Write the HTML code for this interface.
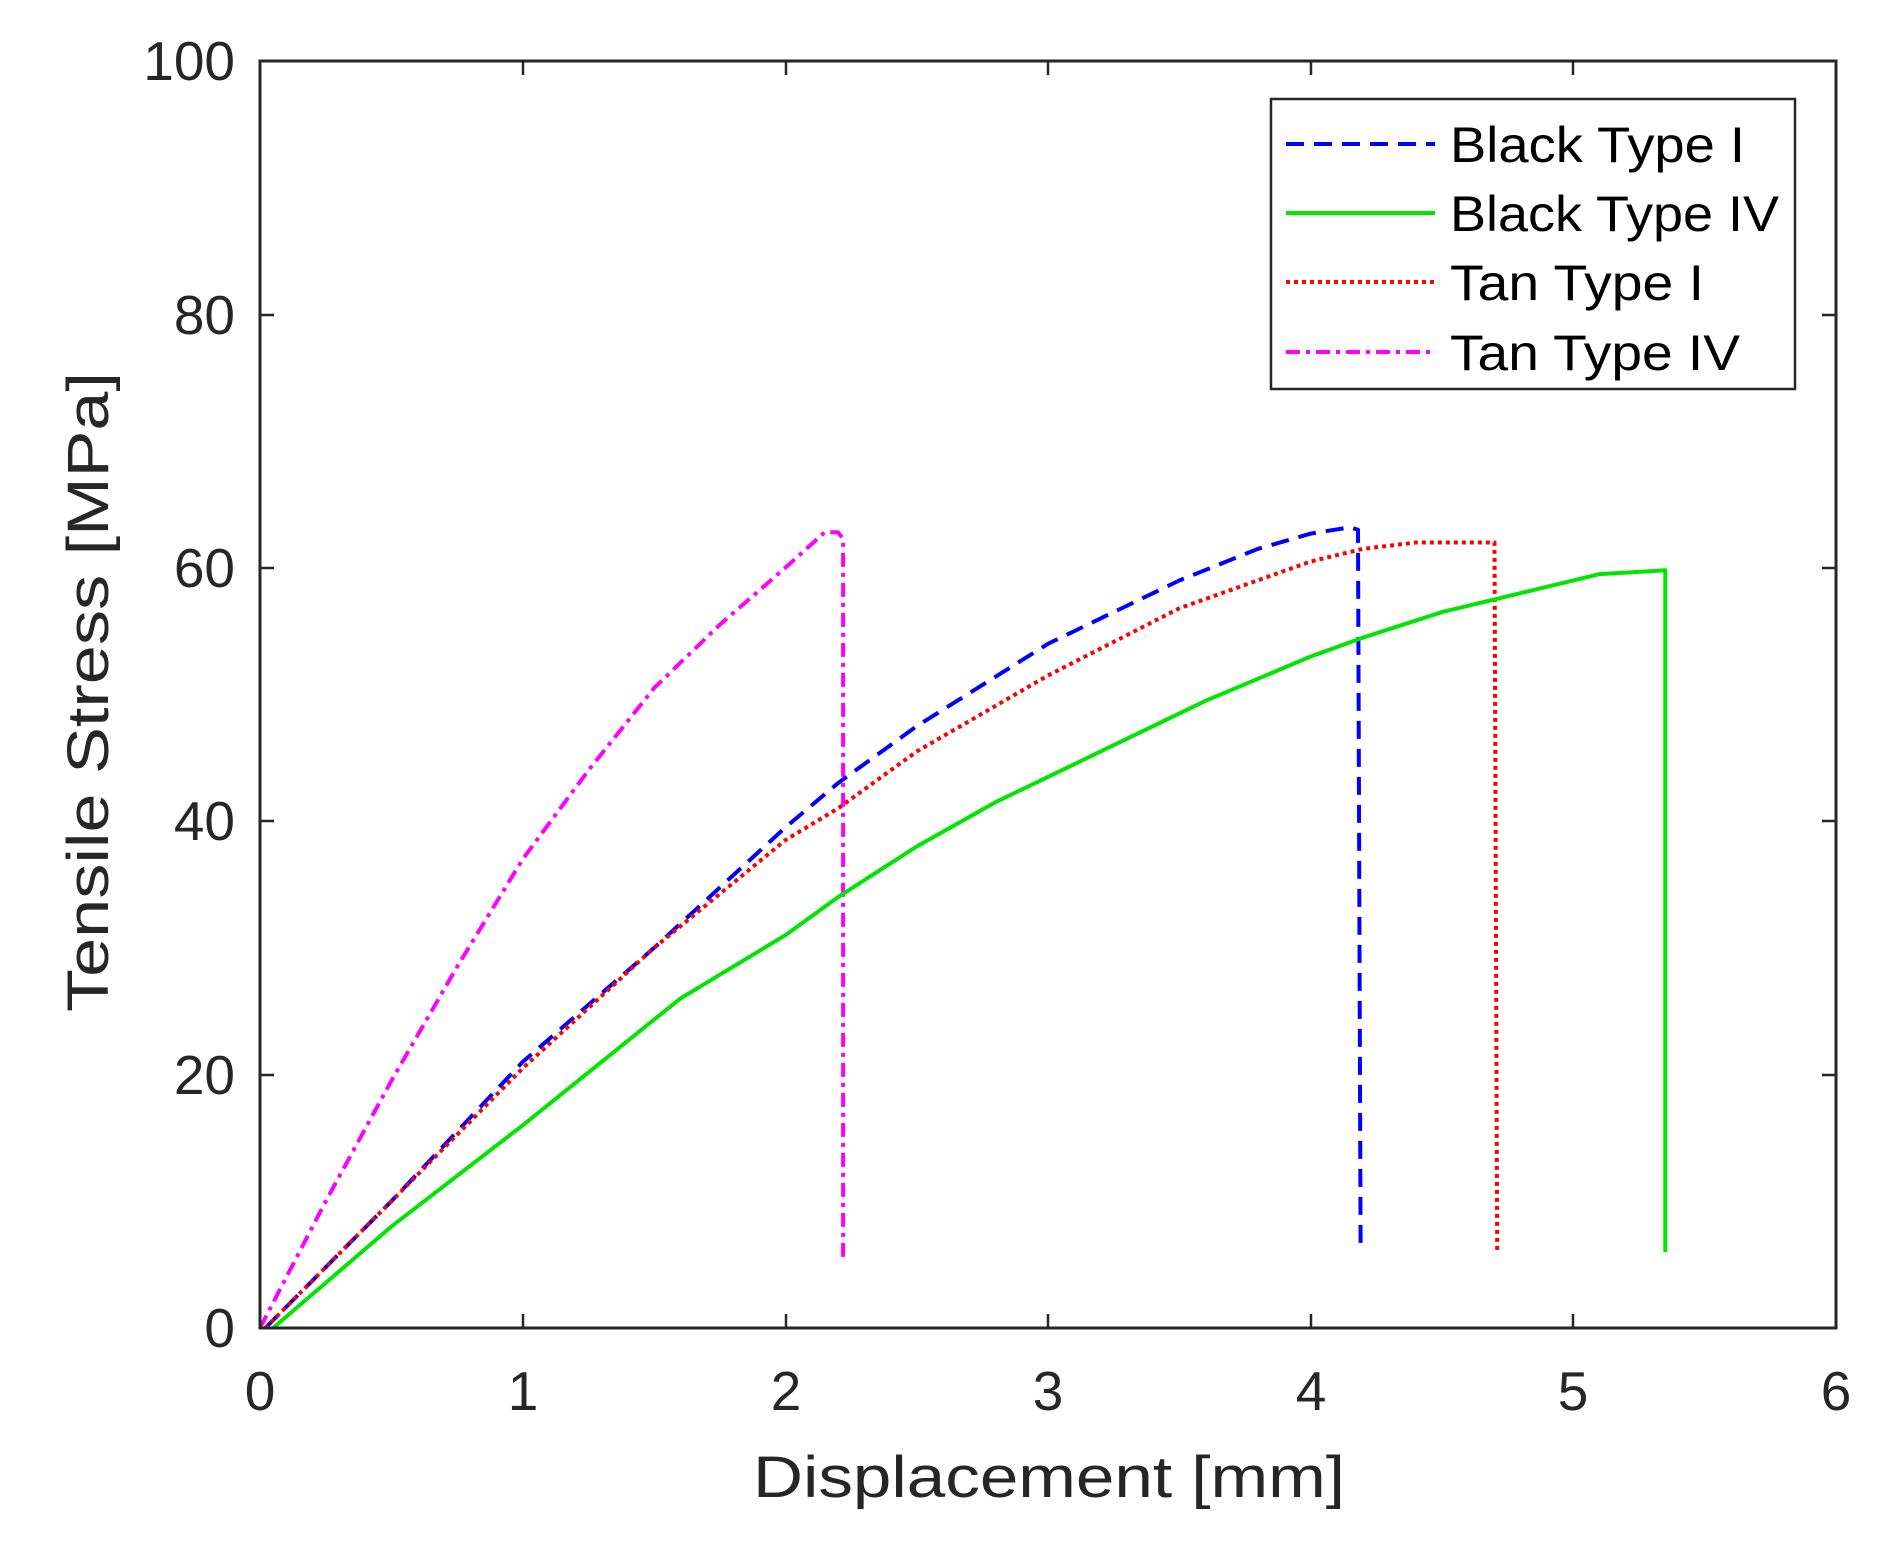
<!DOCTYPE html>
<html><head><meta charset="utf-8"><style>body{margin:0;background:#fff}</style></head><body>
<svg width="1886" height="1545" xmlns="http://www.w3.org/2000/svg" font-family="Liberation Sans, sans-serif">
<rect width="1886" height="1545" fill="#fff"/>
<g stroke="#262626" stroke-width="2.5">
<path d="M523,1328v-14M786,1328v-14M1048,1328v-14M1311,1328v-14M1573,1328v-14M523,61v14M786,61v14M1048,61v14M1311,61v14M1573,61v14"/>
<path d="M260,1075h14M260,821h14M260,568h14M260,315h14M1836,1075h-14M1836,821h-14M1836,568h-14M1836,315h-14"/>
</g>
<g fill="none" stroke-width="4" stroke-linejoin="round">
<polyline id="mag" stroke="#ff00ff" stroke-dasharray="14,6,4,6"/>
<polyline id="blu" stroke="#0000ff" stroke-dasharray="18,10"/>
<polyline id="red" stroke="#ff0000" stroke-dasharray="4,4"/>
<polyline id="grn" stroke="#00e600"/>
</g>
<rect x="260" y="61" width="1576" height="1267" fill="none" stroke="#262626" stroke-width="3"/>
<g font-size="55" fill="#262626" text-anchor="end">
<text x="235" y="1347">0</text>
<text x="235" y="1094">20</text>
<text x="235" y="840">40</text>
<text x="235" y="587">60</text>
<text x="235" y="334">80</text>
<text x="235" y="80">100</text>
</g>
<g font-size="55" fill="#262626" text-anchor="middle">
<text x="260" y="1410">0</text>
<text x="523" y="1410">1</text>
<text x="786" y="1410">2</text>
<text x="1048" y="1410">3</text>
<text x="1311" y="1410">4</text>
<text x="1573" y="1410">5</text>
<text x="1836" y="1410">6</text>
</g>
<text x="1049" y="1497" font-size="58" fill="#262626" text-anchor="middle" textLength="592" lengthAdjust="spacingAndGlyphs">Displacement [mm]</text>
<text transform="translate(108,692) rotate(-90)" font-size="58" fill="#262626" text-anchor="middle" textLength="640" lengthAdjust="spacingAndGlyphs">Tensile Stress [MPa]</text>
<rect x="1271" y="99" width="524" height="290" fill="#fff" stroke="#262626" stroke-width="2.5"/>
<g stroke-width="4" fill="none">
<line x1="1286" y1="144" x2="1435" y2="144" stroke="#0000ff" stroke-dasharray="18,10"/>
<line x1="1286" y1="213" x2="1435" y2="213" stroke="#00e600"/>
<line x1="1286" y1="282" x2="1435" y2="282" stroke="#ff0000" stroke-dasharray="4,4"/>
<line x1="1286" y1="352" x2="1435" y2="352" stroke="#ff00ff" stroke-dasharray="14,6,4,6"/>
</g>
<g font-size="50" fill="#000" lengthAdjust="spacingAndGlyphs">
<text x="1450" y="162" textLength="295" lengthAdjust="spacingAndGlyphs">Black Type I</text>
<text x="1450" y="231" textLength="329" lengthAdjust="spacingAndGlyphs">Black Type IV</text>
<text x="1450" y="300" textLength="254" lengthAdjust="spacingAndGlyphs">Tan Type I</text>
<text x="1450" y="370" textLength="290" lengthAdjust="spacingAndGlyphs">Tan Type IV</text>
</g>
</svg>
<script>
function P(id,d){document.getElementById(id).setAttribute('points',d.map(function(p){return (260+p[0]*262.67).toFixed(1)+','+(1328-p[1]*12.67).toFixed(1)}).join(' '));}
P('mag',[[0,0],[0.25,10],[0.5,19.5],[0.75,28.5],[1,37],[1.25,44],[1.5,50.5],[1.75,55.5],[2,60],[2.15,62.8],[2.2,62.8],[2.22,62.3],[2.22,5.5]]);
P('blu',[[0.02,0],[0.5,10],[1,21],[1.5,30],[2,39.5],[2.2,43],[2.5,47.5],[3,54],[3.5,59],[3.8,61.5],[4,62.7],[4.15,63.2],[4.18,63],[4.19,6.5]]);
P('red',[[0.02,0],[0.5,10],[1,20.5],[1.5,30],[2,38.5],[2.2,41],[2.5,45.5],[3,51.5],[3.5,56.8],[4,60.5],[4.2,61.5],[4.4,62],[4.7,62],[4.71,6]]);
P('grn',[[0.05,0],[0.5,8],[1,16],[1.3,21],[1.6,26],[2,31],[2.2,34],[2.5,38],[2.8,41.5],[3,43.5],[3.3,46.5],[3.6,49.5],[4,53],[4.2,54.5],[4.5,56.5],[4.8,58],[5.1,59.5],[5.35,59.8],[5.35,6]]);
</script>
</body></html>
